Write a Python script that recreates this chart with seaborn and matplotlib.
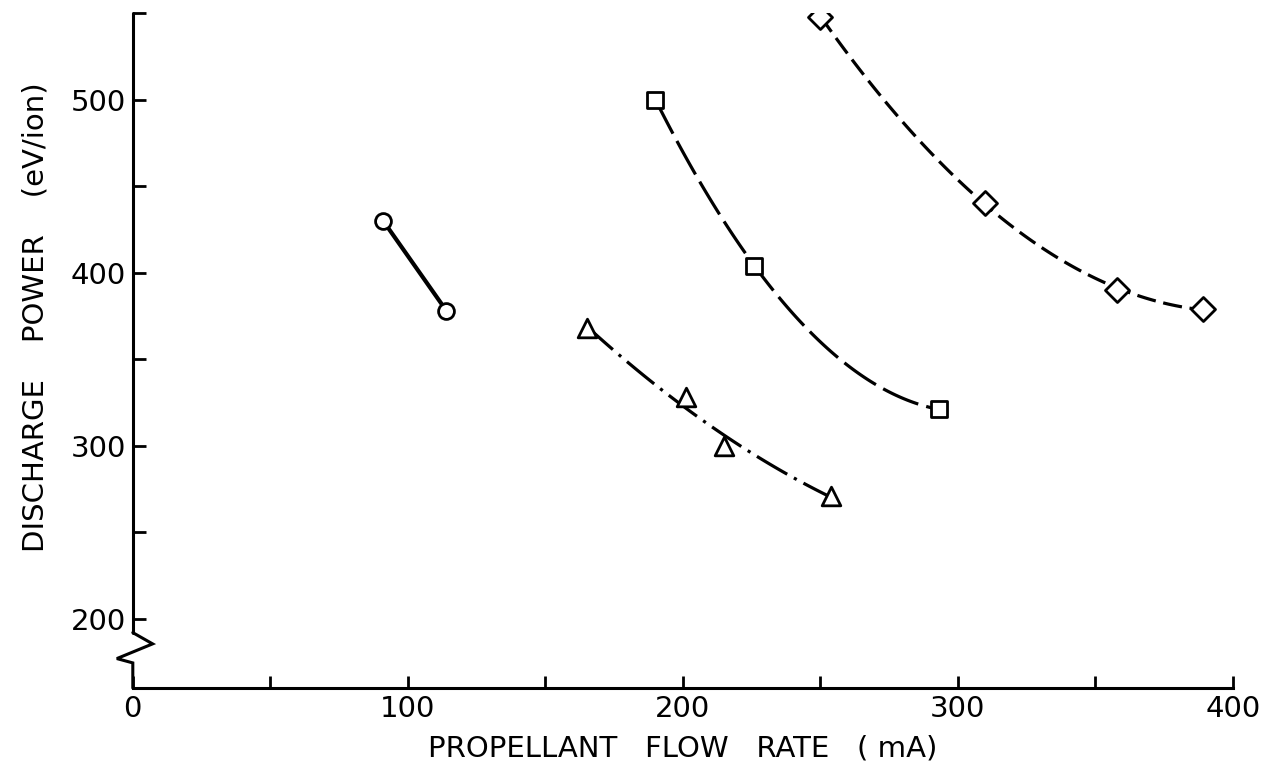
import numpy as np
import pandas as pd
import seaborn as sns
import matplotlib.pyplot as plt

# values (flow rate mA, discharge power eV/ion)
circle_flow = [91, 114]
circle_power = [430, 378]

triangle_flow = [165, 201, 215, 254]
triangle_power = [368, 328, 300, 271]

square_flow = [190, 226, 293]
square_power = [500, 404, 321]

diamond_flow = [250, 310, 358, 389]
diamond_power = [548, 440, 390, 379]

x_major = [0, 100, 200, 300, 400]
x_minor = [50, 150, 250, 350]
y_major = [200, 300, 400, 500]
y_minor = [250, 350, 450, 550]


def main():
    sns.set_theme(style="white")
    plt.rcParams['font.family'] = ['DejaVu Sans']

    fig = plt.figure(figsize=(12.77, 7.67), dpi=100)
    ax = fig.add_axes([0.104, 0.103, 0.8615, 0.880])

    # flow, power, marker, fit order, dash pattern, line width, marker size
    series = [
        (circle_flow, circle_power, "o", 1, None, 3.0, 130),
        (triangle_flow, triangle_power, "^", 2, (11, 2.4, 1.0, 2.4), 2.3, 180),
        (square_flow, square_power, "s", 2, (12, 2.6), 2.3, 140),
        (diamond_flow, diamond_power, "D", 2, (6, 2.4), 2.3, 150),
    ]

    for flow, power, mk, order, dash, lw, size in series:
        df = pd.DataFrame({"flow": flow, "power": power})
        line_kws = {"color": "black", "lw": lw, "zorder": 2}
        if dash is not None:
            line_kws["dashes"] = dash
        sns.regplot(data=df, x="flow", y="power", order=order, ci=None,
                    scatter=False, truncate=True, ax=ax, line_kws=line_kws)
        sns.scatterplot(data=df, x="flow", y="power", marker=mk, s=size,
                        color="white", edgecolor="black", linewidth=2.0,
                        ax=ax, zorder=3)

    ax.set_xlim(0, 400)
    ax.set_ylim(160, 550)

    ax.set_xticks(x_major)
    ax.set_xticks(x_minor, minor=True)
    ax.set_yticks(y_major)
    ax.set_yticks(y_minor, minor=True)
    ax.set_xticklabels([str(v) for v in x_major], fontsize=21)
    ax.set_yticklabels([str(v) for v in y_major], fontsize=21)

    ax.tick_params(axis="both", which="both", direction="in", length=9,
                   width=2, color="black", labelcolor="black",
                   left=True, bottom=True)
    ax.tick_params(axis="x", pad=5)
    ax.tick_params(axis="y", pad=5)

    for side in ["top", "right", "left"]:
        ax.spines[side].set_visible(False)
    ax.spines["bottom"].set_linewidth(2.2)
    ax.spines["bottom"].set_color("black")

    # left axis line with the break zigzag near the bottom
    tr = ax.get_yaxis_transform()
    ax.plot([0, 0], [192, 550], color="black", lw=2.2, transform=tr, clip_on=False, zorder=4)
    ax.plot([0, 0.018, -0.0145, 0, 0], [192, 185.5, 177, 174.5, 160], color="black",
            lw=2.2, transform=tr, clip_on=False, zorder=4, solid_joinstyle="miter")

    ax.set_xlabel("PROPELLANT   FLOW   RATE   ( mA)", fontsize=21, labelpad=8, color="black")
    ax.set_ylabel("DISCHARGE    POWER    (eV/ion)", fontsize=21, labelpad=14, color="black")
    ax.yaxis.set_label_coords(-0.076, 0.55)
    ax.grid(False)

    fig.savefig("out.png", dpi=100, facecolor="white")


if __name__ == "__main__":
    main()
